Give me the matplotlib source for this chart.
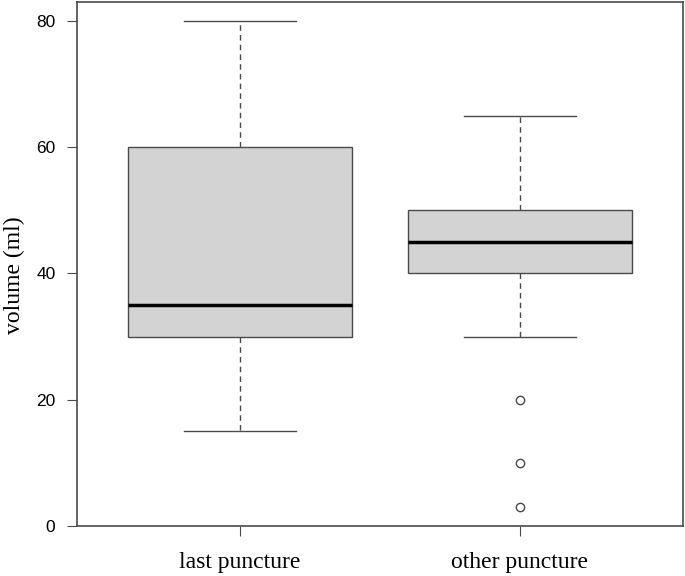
import matplotlib
matplotlib.use("Agg")
import matplotlib.pyplot as plt

# summary statistics
groups = ["last puncture", "other puncture"]
whislo = [15, 30]
q1 = [30, 40]
med = [35, 45]
q3 = [60, 50]
whishi = [80, 65]
fliers = [[], [20, 10, 3]]

stats = []
for i, name in enumerate(groups):
    stats.append(dict(label=name, whislo=whislo[i], q1=q1[i], med=med[i],
                      q3=q3[i], whishi=whishi[i], fliers=fliers[i]))

fig = plt.figure(figsize=(6.85, 5.76), dpi=100)
ax = fig.add_axes([0.1124, 0.0868, 0.8846, 0.9097])

edge = "#4a4a4a"
ax.bxp(stats, positions=[1, 2], widths=0.8, patch_artist=True,
       boxprops=dict(facecolor="#d3d3d3", edgecolor=edge, linewidth=1.0),
       medianprops=dict(color="black", linewidth=2.5),
       whiskerprops=dict(color=edge, linestyle=(0, (4, 3)), linewidth=1.0),
       capprops=dict(color=edge, linewidth=1.0),
       capwidths=0.4,
       flierprops=dict(marker="o", markersize=6, markerfacecolor="white",
                       markeredgecolor=edge, markeredgewidth=1.0))

ax.set_xlim(0.418, 2.582)
ax.set_ylim(0, 83)
ax.set_yticks([0, 20, 40, 60, 80])
ax.set_yticklabels(["0", "20", "40", "60", "80"], family="Liberation Sans", fontsize=12.5)
ax.set_xticks([1, 2])
ax.set_xticklabels(groups, family="Liberation Serif", fontsize=17)
ax.tick_params(axis="y", length=7, pad=8.5, color=edge)
ax.tick_params(axis="x", length=7, pad=12, color=edge)
ax.set_ylabel("volume (ml)", family="Liberation Serif", fontsize=17, labelpad=8)
ax.yaxis.label.set_y(0.479)
for s in ax.spines.values():
    s.set_color(edge)
    s.set_linewidth(1.2)

fig.savefig("out.png", dpi=100)
